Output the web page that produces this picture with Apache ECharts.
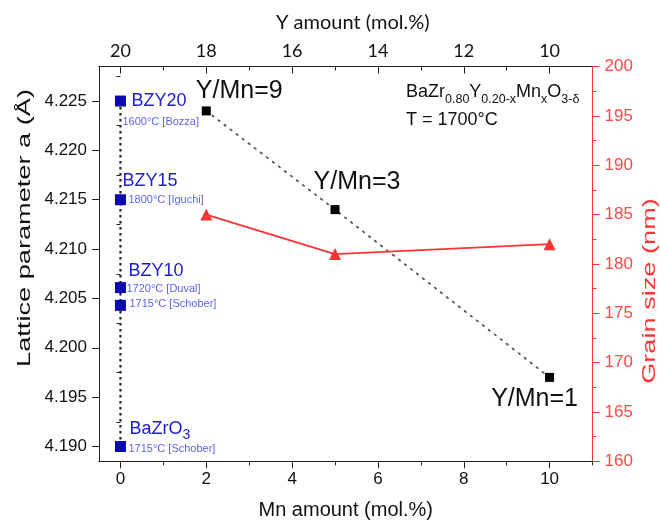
<!DOCTYPE html>
<html>
<head>
<meta charset="utf-8">
<script src="https://cdn.jsdelivr.net/npm/echarts@6/dist/echarts.min.js"></script>
<style>
  html, body { margin: 0; padding: 0; background: #fff; }
  #chart { width: 660px; height: 524px; }
</style>
</head>
<body>
<div id="chart"></div>
<script>
// Mn-doped series: BaZr0.80Y0.20-xMnxO3-δ sintered at 1700 °C
const mnAmount = [2, 5, 10];
const latticeMn = [4.224, 4.214, 4.197];
const ratioLabels = ['Y/Mn=9', 'Y/Mn=3', 'Y/Mn=1'];
const grainSize = [185, 181, 182];

// Literature references (Mn = 0)
const refMn = [0, 0, 0, 0, 0];
const refLattice = [4.225, 4.215, 4.2061, 4.2043, 4.190];
const refNames = ['{n|BZY20}', '{n|BZY15}', '{n|BZY10}', '', '{n|BaZrO}{sub|3}'];
const refNotes = ['1600°C [Bozza]', '1800°C [Iguchi]', '1720°C [Duval]', '1715°C [Schober]', '1715°C [Schober]'];

// Tick values
const mnTicks = [0, 2, 4, 6, 8, 10];
const mnMinorTicks = [1, 3, 5, 7, 9, 11];
const yTicks = [20, 18, 16, 14, 12, 10];
const yMinorTicks = [19, 17, 15, 13, 11];
const latticeTicks = [4.190, 4.195, 4.200, 4.205, 4.210, 4.215, 4.220, 4.225];
const latticeMinorTicks = [4.1925, 4.1975, 4.2025, 4.2075, 4.2125, 4.2175, 4.2225, 4.2275];

// Label placement (pixel offsets from each marker centre)
const refNameOffsets = [[11, 0], [2, -19], [8, -17], [0, 0], [9, -17]];
const refNoteOffsets = [[2, 21], [8, 0], [6, 1], [9, -1], [8, 2]];
const ratioOffsets = [[33, -20], [22, -28], [-15, 22]];

const FONT = 'Liberation Sans, Arial, sans-serif';
const BLUE = '#0a0ab0';
const RED = '#ff3333';
const INK = '#111';

const chart = echarts.init(document.getElementById('chart'), null, { renderer: 'canvas' });

const refData = refMn.map((x, i) => [x, refLattice[i]]);
const mnData = mnAmount.map((x, i) => [x, latticeMn[i]]);
const grainData = mnAmount.map((x, i) => [x, grainSize[i]]);

function tickAxisX(extra) {
  return Object.assign({
    type: 'value',
    splitLine: { show: false },
    axisLine: { show: false },
    axisLabel: { show: false },
    nameMoveOverlap: false
  }, extra);
}

const option = {
  backgroundColor: '#fff',
  animation: false,
  grid: {
    left: 99, right: 67.5, top: 66.5, bottom: 62.7,
    containLabel: false,
    outerBoundsMode: 'none'
  },
  title: [{
    left: 406, top: 78, padding: 0,
    text: '{m|BaZr}{s|0.80}{m|Y}{s|0.20-x}{m|Mn}{s|x}{m|O}{s|3-δ}\n{m|T = 1700°C}',
    textStyle: {
      fontWeight: 'normal',
      rich: {
        m: { fontSize: 18, fontFamily: FONT, fontWeight: 'normal', color: INK, lineHeight: 28, verticalAlign: 'middle' },
        s: { fontSize: 12.5, fontFamily: FONT, fontWeight: 'normal', color: INK, lineHeight: 14, verticalAlign: 'bottom' }
      }
    }
  }],
  graphic: [
    {
      type: 'text', x: 25, y: 228, rotation: Math.PI / 2, scaleX: 1.43,
      style: { text: 'Lattice parameter a (Å)', fontSize: 19, fontFamily: FONT, fill: INK, align: 'center', verticalAlign: 'middle' }
    },
    {
      type: 'text', x: 650, y: 291, rotation: Math.PI / 2, scaleX: 1.43,
      style: { text: 'Grain size (nm)', fontSize: 19, fontFamily: FONT, fill: RED, align: 'center', verticalAlign: 'middle' }
    }
  ],
  xAxis: [
    {
      type: 'value', position: 'bottom', min: -0.5, max: 11,
      name: 'Mn amount (mol.%)', nameLocation: 'middle', nameGap: 39, nameMoveOverlap: false,
      nameTextStyle: { fontSize: 20, fontFamily: FONT, color: INK },
      splitLine: { show: false },
      axisLine: { show: true, onZero: false, lineStyle: { color: '#222', width: 1 } },
      axisTick: { show: true, inside: false, length: 7, customValues: mnTicks, lineStyle: { color: '#222' } },
      axisLabel: { show: true, customValues: mnTicks, margin: 10, fontSize: 17, fontFamily: FONT, color: INK }
    },
    tickAxisX({
      position: 'bottom', min: -0.5, max: 11,
      axisTick: { show: true, inside: false, length: 4, customValues: mnMinorTicks, lineStyle: { color: '#222' } }
    }),
    {
      type: 'value', position: 'top', min: 9, max: 20.5, inverse: true,
      name: 'Y amount (mol.%)', nameLocation: 'middle', nameGap: 34, nameMoveOverlap: false,
      nameTextStyle: { fontSize: 20, fontFamily: 'Lato, sans-serif', color: INK, padding: [0, 0, 0, 14] },
      splitLine: { show: false },
      axisLine: { show: true, onZero: false, lineStyle: { color: '#222', width: 1 } },
      axisTick: { show: true, inside: true, length: 7, customValues: yTicks, lineStyle: { color: '#222' } },
      axisLabel: { show: true, customValues: yTicks, margin: 6, fontSize: 18, fontFamily: 'Lato, sans-serif', color: INK }
    },
    tickAxisX({
      position: 'top', min: 9, max: 20.5, inverse: true,
      axisTick: { show: true, inside: true, length: 4, customValues: yMinorTicks, lineStyle: { color: '#222' } }
    })
  ],
  yAxis: [
    {
      type: 'value', position: 'left', min: 4.1885, max: 4.2285,
      splitLine: { show: false },
      axisLine: { show: true, onZero: false, lineStyle: { color: '#222', width: 1 } },
      axisTick: { show: true, inside: false, length: 7, customValues: latticeTicks, lineStyle: { color: '#222' } },
      axisLabel: {
        show: true, customValues: latticeTicks, margin: 12, fontSize: 17, fontFamily: FONT, color: INK,
        formatter: v => v.toFixed(3)
      }
    },
    {
      type: 'value', position: 'left', min: 4.1885, max: 4.2285,
      splitLine: { show: false },
      axisLine: { show: false },
      axisLabel: { show: false },
      axisTick: { show: true, inside: false, length: 4, customValues: latticeMinorTicks, lineStyle: { color: '#222' } }
    },
    {
      type: 'value', position: 'right', min: 160, max: 200, interval: 5,
      splitLine: { show: false },
      axisLine: { show: true, onZero: false, lineStyle: { color: RED, width: 1 } },
      axisTick: { show: true, inside: false, length: 7, lineStyle: { color: RED } },
      minorTick: { show: true, splitNumber: 2, length: 4, lineStyle: { color: RED } },
      axisLabel: { show: true, margin: 12, fontSize: 17, fontFamily: FONT, color: '#ff4848' }
    }
  ],
  series: [
    {
      // reference compositions joined by a dashed guide
      type: 'line', xAxisIndex: 0, yAxisIndex: 0,
      data: refData.map((v, i) => ({ value: v, label: { offset: refNameOffsets[i] } })),
      symbol: 'rect', symbolSize: 11,
      itemStyle: { color: BLUE },
      lineStyle: { color: '#222', width: 2.2, type: [2.5, 3.5] },
      label: {
        show: true, position: 'inside', align: 'left', verticalAlign: 'middle',
        formatter: p => refNames[p.dataIndex],
        rich: {
          n: { fontSize: 18, fontFamily: FONT, color: '#1c1cd0', lineHeight: 26, verticalAlign: 'middle' },
          sub: { fontSize: 14, fontFamily: FONT, color: '#1c1cd0', lineHeight: 14, verticalAlign: 'bottom' }
        },
        fontSize: 18, fontFamily: FONT, color: '#1c1cd0'
      },
      z: 3, silent: true
    },
    {
      // sintering temperature / source notes
      type: 'scatter', xAxisIndex: 0, yAxisIndex: 0,
      data: refData.map((v, i) => ({ value: v, label: { offset: refNoteOffsets[i] } })),
      symbol: 'rect', symbolSize: 1,
      itemStyle: { color: 'rgba(0,0,0,0)' },
      label: {
        show: true, position: 'inside', align: 'left', verticalAlign: 'middle',
        formatter: p => refNotes[p.dataIndex],
        fontSize: 11, fontFamily: FONT, color: '#3434ea'
      },
      z: 4, silent: true
    },
    {
      // lattice parameter of the Mn-doped samples
      type: 'line', xAxisIndex: 0, yAxisIndex: 0,
      data: mnData.map((v, i) => ({ value: v, label: { offset: ratioOffsets[i] } })),
      symbol: 'rect', symbolSize: 9,
      itemStyle: { color: '#000' },
      lineStyle: { color: '#555', width: 1.8, type: [1.6, 6], cap: 'round' },
      label: {
        show: true, position: 'inside', align: 'center', verticalAlign: 'middle',
        formatter: p => ratioLabels[p.dataIndex],
        fontSize: 25, fontFamily: FONT, color: INK
      },
      z: 3, silent: true
    },
    {
      // grain size
      type: 'line', xAxisIndex: 0, yAxisIndex: 2,
      data: grainData,
      symbol: 'triangle', symbolSize: 12,
      itemStyle: { color: RED },
      lineStyle: { color: RED, width: 1.8 },
      z: 5, silent: true
    }
  ]
};

chart.setOption(option);
</script>
</body>
</html>
